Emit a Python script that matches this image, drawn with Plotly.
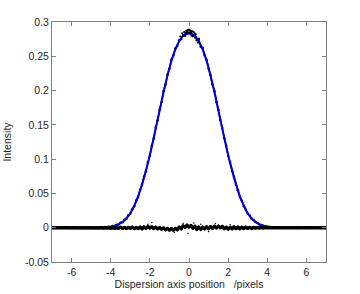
import numpy as np
import plotly.graph_objects as go

# ---- data ----
fit_x = [-7.0, -6.75, -6.5, -6.25, -6.0, -5.75, -5.5, -5.25, -5.0, -4.75, -4.5, -4.25, -4.0, -3.75,
         -3.5, -3.25, -3.0, -2.75, -2.5, -2.25, -2.0, -1.75, -1.5, -1.25, -1.0, -0.75, -0.5, -0.25,
         0.0, 0.25, 0.5, 0.75, 1.0, 1.25, 1.5, 1.75, 2.0, 2.25, 2.5, 2.75, 3.0, 3.25, 3.5, 3.75,
         4.0, 4.25, 4.5, 4.75, 5.0, 5.25, 5.5, 5.75, 6.0, 6.25, 6.5, 6.75, 7.0]
fit_y = [0, 0, 0, 0, 0, 0, 0, 0, 0, 0.0001, 0.0003, 0.0007, 0.0015, 0.0032,
         0.0065, 0.012, 0.021, 0.035, 0.054, 0.078, 0.106, 0.138, 0.171, 0.204, 0.233, 0.256, 0.272, 0.281,
         0.283, 0.281, 0.272, 0.256, 0.233, 0.204, 0.171, 0.138, 0.106, 0.078, 0.054, 0.035, 0.021, 0.012, 0.0065, 0.0032,
         0.0015, 0.0007, 0.0003, 0.0001, 0, 0, 0, 0, 0, 0, 0, 0, 0]

profile_x = [round(-4.5 + 0.1 * i, 1) for i in range(91)]
profile_y = [0.0004, 0.0003, 0.0008, 0.0006, 0.0013, 0.0012, 0.0024, 0.0024, 0.0041, 0.0046,
             0.0071, 0.0080, 0.0117, 0.0131, 0.0180, 0.0203, 0.0270, 0.0312, 0.0396, 0.0447,
             0.0552, 0.0626, 0.0742, 0.0824, 0.0953, 0.1048, 0.1200, 0.1302, 0.1460, 0.1568,
             0.1725, 0.1832, 0.1995, 0.2085, 0.2230, 0.2318, 0.2450, 0.2512, 0.2615, 0.2650,
             0.2735, 0.2752, 0.2810, 0.2800, 0.2855, 0.2845, 0.2860, 0.2795, 0.2830, 0.2735,
             0.2745, 0.2640, 0.2625, 0.2510, 0.2450, 0.2320, 0.2228, 0.2088, 0.1995, 0.1830,
             0.1722, 0.1570, 0.1455, 0.1305, 0.1195, 0.1050, 0.0950, 0.0826, 0.0740, 0.0628,
             0.0548, 0.0450, 0.0392, 0.0314, 0.0266, 0.0205, 0.0177, 0.0133, 0.0114, 0.0082,
             0.0068, 0.0047, 0.0040, 0.0025, 0.0022, 0.0013, 0.0013, 0.0007, 0.0007, 0.0003,
             0.0004]

peak_x = [-0.45, -0.35, -0.25, -0.15, -0.05, 0.05, 0.15, 0.25, 0.35, -0.3, -0.1, 0.0, 0.1, 0.2,
          0.3, 0.45, 0.55, 0.5, -0.2, 0.12]
peak_y = [0.2790, 0.2835, 0.2855, 0.2870, 0.2885, 0.2880, 0.2865, 0.2850, 0.2820, 0.2795, 0.2875,
          0.2890, 0.2845, 0.2860, 0.2770, 0.2700, 0.2690, 0.2760, 0.2840, 0.2800]

resid_x = [round(-7.0 + 0.1 * i, 1) for i in range(141)]
resid_y = [0] * 25 + [
    0.0002, -0.0001, 0.0002, -0.0002, 0.0003, -0.0003, 0.0004, -0.0005, 0.0003, -0.0006,
    0.0005, -0.0008, 0.0003, -0.0010, 0.0004, -0.0009, 0.0006, -0.0013, 0.0002, -0.0011,
    0.0008, -0.0015, 0.0010, -0.0006, 0.0015, -0.0004, 0.0012, -0.0010, 0.0005, -0.0015,
    0.0000, -0.0020, -0.0005, -0.0028, -0.0012, -0.0032, -0.0015, -0.0035, -0.0012, -0.0028,
    0.0005, -0.0015, 0.0025, 0.0005, 0.0035, 0.0012, 0.0030, -0.0005, 0.0018, -0.0022,
    0.0008, -0.0020, 0.0006, -0.0015, 0.0010, -0.0012, 0.0014, -0.0006, 0.0020, -0.0002,
    0.0022, 0.0000, 0.0016, -0.0012, 0.0006, -0.0018, 0.0004, -0.0015, 0.0010, -0.0012,
    0.0008, -0.0015, 0.0005, -0.0010, 0.0006, -0.0009, 0.0004, -0.0008, 0.0003, -0.0005,
    0.0003, -0.0004, 0.0002, -0.0003, 0.0002, -0.0002, 0.0001, -0.0001, 0.0001, -0.0001,
] + [0] * 26

outlier_x = [-1.9, -2.1, -0.05, 0.25, 1.35, 2.1, -0.75, 1.0, -0.3, 0.6]
outlier_y = [0.0075, 0.0050, -0.0085, 0.0070, 0.0060, 0.0045, -0.0070, -0.0055, 0.0065, 0.0050]

x_tickvals = [-6, -4, -2, 0, 2, 4, 6]
x_ticktext = ["-6", "-4", "-2", "0", "2", "4", "6"]
y_tickvals = [-0.05, 0, 0.05, 0.1, 0.15, 0.2, 0.25, 0.3]
y_ticktext = ["-0.05", "0", "0.05", "0.1", "0.15", "0.2", "0.25", "0.3"]

FONT = "Liberation Sans, Arial, sans-serif"
TXT = "#262626"
AX = "#7f7f7f"

fig = go.Figure()
fig.add_trace(go.Scatter(x=profile_x, y=profile_y, mode="lines+markers",
                         line=dict(color="black", width=1.5), marker=dict(color="black", size=2.5)))
fig.add_trace(go.Scatter(x=fit_x, y=fit_y, mode="lines", line=dict(color="#0000e6", width=2, shape="spline")))
fig.add_trace(go.Scatter(x=resid_x, y=resid_y, mode="lines+markers",
                         line=dict(color="black", width=3), marker=dict(color="black", size=3.5)))
fig.add_trace(go.Scatter(x=outlier_x, y=outlier_y, mode="markers",
                         marker=dict(color="black", size=1.5)))
fig.add_trace(go.Scatter(x=peak_x, y=peak_y, mode="markers", marker=dict(color="black", size=2)))

axis_common = dict(showline=True, mirror="ticks", linecolor=AX, linewidth=1, ticks="inside",
                   ticklen=4, tickcolor=AX, showgrid=False, zeroline=False, automargin=False,
                   tickfont=dict(family=FONT, size=10.5, color=TXT))
fig.update_xaxes(range=[-7, 7], tickvals=x_tickvals, ticktext=x_ticktext,
                 title=dict(text="Dispersion axis position   /pixels", standoff=0,
                            font=dict(family=FONT, size=10.5, color=TXT)), **axis_common)
fig.update_yaxes(range=[-0.05, 0.3], tickvals=y_tickvals, ticktext=y_ticktext,
                 title=dict(text="Intensity", standoff=11,
                            font=dict(family=FONT, size=10.5, color=TXT)), **axis_common)
fig.update_layout(width=360, height=294, margin=dict(l=52, r=34, t=22, b=32),
                  showlegend=False, plot_bgcolor="white", paper_bgcolor="white")
fig.write_html("out.html", config={"displayModeBar": False},
               post_script="document.body.style.margin='0';")
